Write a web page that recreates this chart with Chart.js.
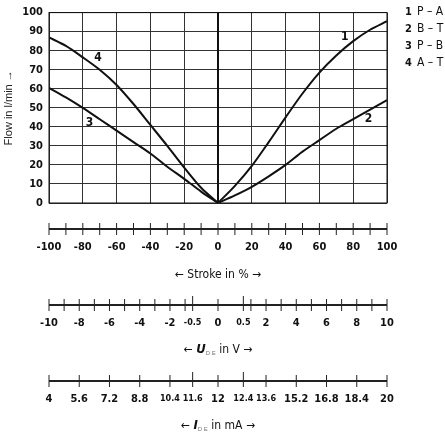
<!DOCTYPE html>
<html><head><meta charset="utf-8">
<script src="https://cdn.jsdelivr.net/npm/chart.js@4/dist/chart.umd.min.js"></script>
<style>html,body{margin:0;background:#fff}#c{display:block}</style>
</head><body>
<canvas id="c" width="445" height="436"></canvas>
<script>
// stroke positions (%) and flow values (l/min)
const strokeR = [0,10,20,30,40,50,60,70,80,90,100];
const flowPA = [0,9,19.5,32,45,57.5,68.5,77.5,85,91,95.5];
const flowBT = [0,4,8.5,14,20,27,33,39,44,49,54];
const strokeL = [-100,-90,-80,-70,-60,-50,-40,-30,-20,-10,0];
const flowPB = [60.5,55.5,50,44,38,32,26,19,12.7,6,0];
const flowAT = [87,82.5,76.5,70,62,52,41,30,18.6,8,0];
const strokeTicks = [-100,-90,-80,-70,-60,-50,-40,-30,-20,-10,0,10,20,30,40,50,60,70,80,90,100];
const legendLines = [['1','P – A'],['2','B – T'],['3','P – B'],['4','A – T']];
const curveLabels = [['1',75,87],['2',89,44],['3',-76,42],['4',-71,76]];
// U (V) ticks, positioned on stroke scale; labels shown only for some
const uTicks = [-10,-9,-8,-7,-6,-5,-4,-3,-2,-1,-0.5,0,0.5,1,2,3,4,5,6,7,8,9,10];
const uLabels = [-10,-8,-6,-4,-2,-0.5,0,0.5,2,4,6,8,10];
const iTicks = [4,5.6,7.2,8.8,10.4,11.6,12,12.4,13.6,15.2,16.8,18.4,20];
const iLong = [11.6,12.4];

function uToStroke(u){ if(u===0) return 0; const s=Math.sign(u); return s*(15+(Math.abs(u)-0.5)*85/9.5); }
function iToStroke(i){ if(i===12) return 0; const d=i-12; const s=Math.sign(d); return s*(15+(Math.abs(d)-0.4)*85/7.6); }

const lbl = "bold 11px 'DejaVu Sans Condensed','Liberation Sans Narrow',sans-serif";
const txt = "12px 'Liberation Sans Narrow','DejaVu Sans Condensed',sans-serif";
const lineDs = (xs,ys)=>({data:xs.map((x,i)=>({x,y:ys[i]})),borderColor:'#111',borderWidth:2,pointRadius:0,tension:0.3,fill:false});

const fixH = h => s => { s.height = h; };
const axisBase = h => ({type:'linear',position:'bottom',min:-100,max:100,afterFit:fixH(h),grid:{display:false},border:{display:false},ticks:{display:false}});

const extras = {
  id:'extras',
  afterDraw(chart){
    const ctx=chart.ctx, x=chart.scales.x, y=chart.scales.y;
    ctx.save();
    ctx.strokeStyle='#111'; ctx.lineWidth=2;
    ctx.beginPath(); ctx.moveTo(x.getPixelForValue(0),y.top); ctx.lineTo(x.getPixelForValue(0),y.bottom); ctx.stroke();
    ctx.lineWidth=1; ctx.strokeRect(x.left,y.top,x.right-x.left,y.bottom-y.top);
    ctx.fillStyle='#111'; ctx.font="bold 12px 'DejaVu Sans Condensed',sans-serif"; ctx.textAlign='center'; ctx.textBaseline='middle';
    curveLabels.forEach(([t,sx,fy])=>ctx.fillText(t,x.getPixelForValue(sx),y.getPixelForValue(fy)));
    ctx.textAlign='left';
    legendLines.forEach(([n,t],k)=>{
      ctx.font=lbl; ctx.fillText(n,405,12+k*17);
      ctx.font=txt; ctx.fillText(t,417,12+k*17);
    });
    const axes=[
      {sc:chart.scales.xs, ticks:strokeTicks.map(v=>({p:v,l:v%20===0?String(v):null,long:false}))},
      {sc:chart.scales.xu, ticks:uTicks.map(u=>({p:uToStroke(u),l:uLabels.includes(u)?String(u):null,long:Math.abs(u)===0.5,small:Math.abs(u)===0.5}))},
      {sc:chart.scales.xi, ticks:iTicks.map(i=>({p:iToStroke(i),l:String(i),long:iLong.includes(i),small:i===10.4||i===11.6||i===12.4||i===13.6}))}
    ];
    axes.forEach(({sc,ticks})=>{
      const yl=sc.top;
      ctx.strokeStyle='#222'; ctx.lineWidth=2;
      ctx.beginPath(); ctx.moveTo(sc.left,yl); ctx.lineTo(sc.right,yl); ctx.stroke();
      ctx.lineWidth=1;
      ticks.forEach(t=>{
        const px=sc.getPixelForValue(t.p), h=t.long?9:6;
        ctx.beginPath(); ctx.moveTo(px,yl-h); ctx.lineTo(px,yl+6); ctx.stroke();
        if(t.l!==null){
          ctx.font=t.small?"bold 9px 'DejaVu Sans Condensed',sans-serif":lbl;
          ctx.textAlign='center'; ctx.textBaseline='middle';
          ctx.fillText(t.l,px,yl+18);
        }
      });
    });
    const cx=x.getPixelForValue(0);
    ctx.font=txt; ctx.textAlign='center'; ctx.textBaseline='middle';
    ctx.fillText('← Stroke in % →',cx,chart.scales.xs.top+46);
    const sub=(sym,rest,yy)=>{
      const parts=[[txt,'← '],["bold italic 13px 'DejaVu Sans Condensed',sans-serif",sym],["6px sans-serif",'D E'],[txt,rest]];
      let w=0; parts.forEach(([f,s])=>{ctx.font=f;w+=ctx.measureText(s).width;});
      let xx=cx-w/2; ctx.textAlign='left';
      parts.forEach(([f,s],k)=>{ctx.font=f;ctx.fillStyle=k===2?'#777':'#111';ctx.fillText(s,xx,k===2?yy+3:yy);xx+=ctx.measureText(s).width;});
      ctx.fillStyle='#111';
    };
    sub('U',' in V →',chart.scales.xu.top+45);
    sub('I',' in mA →',chart.scales.xi.top+45);
    ctx.restore();
  }
};

new Chart(document.getElementById('c'),{
  type:'line',
  data:{datasets:[lineDs(strokeR,flowPA),lineDs(strokeR,flowBT),lineDs(strokeL,flowPB),lineDs(strokeL,flowAT)]},
  options:{
    responsive:false,animation:false,
    layout:{padding:{top:7,right:58,bottom:0,left:0}},
    plugins:{legend:{display:false},tooltip:{enabled:false}},
    scales:{
      x:{type:'linear',position:'bottom',min:-100,max:100,afterFit:fixH(26),
        ticks:{display:false,stepSize:20},border:{display:false},
        grid:{color:'#333',lineWidth:1,drawTicks:false}},
      xs:axisBase(76),
      xu:axisBase(76),
      xi:axisBase(55),
      y:{min:0,max:100,afterFit:s=>{s.width=49;},
        ticks:{stepSize:10,color:'#111',font:{family:"'DejaVu Sans Condensed',sans-serif",size:11,weight:'bold'},padding:6},
        border:{display:false},grid:{color:'#333',drawTicks:false},
        title:{display:true,text:'Flow in l/min →',color:'#222',font:{family:"'Liberation Sans Narrow',sans-serif",size:11},padding:2}}
    }
  },
  plugins:[extras]
});
</script>
</body></html>
